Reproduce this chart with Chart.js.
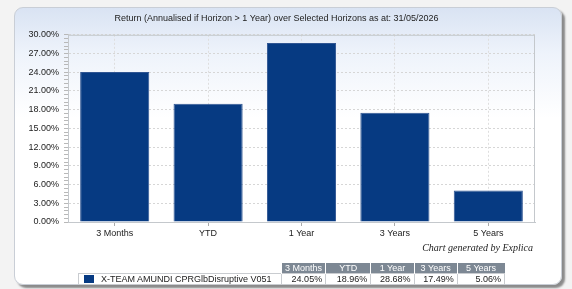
<!DOCTYPE html>
<html>
<head>
<meta charset="utf-8">
<script src="https://cdn.jsdelivr.net/npm/chart.js@4"></script>
<style>
    html, body { margin: 0; padding: 0; background: #f3f3f3; }
    body { width: 572px; height: 289px; position: relative; overflow: hidden; font-family: Arial, "Liberation Sans", sans-serif; }
    .panel {
        position: absolute; left: 14px; top: 7px; width: 546px; height: 276px;
        border: 1px solid #c9ced6; border-radius: 9px;
        background: linear-gradient(to bottom, #d9e3f3 0px, #eef3fb 45px, #ffffff 110px);
        box-shadow: 3px 3px 2px #8a8a8a;
    }
    #chart { position: absolute; left: 0; top: 0; }
    .credit {
        position: absolute; right: 39px; top: 242px;
        font: italic 10px "Times New Roman", "Liberation Serif", serif; color: #222;
    }
    table.data {
        position: absolute; left: 78px; top: 263px; width: 427px;
        table-layout: fixed; border-collapse: collapse; font-size: 9px; color: #222;
    }
    table.data td { padding: 0 3px; white-space: nowrap; overflow: hidden; }
    table.data tr.head td { height: 10px; line-height: 10px; }
    table.data tr.head td.h { background: #7d8894; color: #fff; border-left: 1px solid #fff; text-align: center; }
    table.data tr.vals td { height: 10px; line-height: 10px; border: 1px solid #c9ccd0; text-align: right; background: #fff; }
    table.data tr.vals td.name { text-align: left; padding-left: 5px; }
    .swatch { display: inline-block; width: 10px; height: 8px; background: #063a82; margin-right: 7px; vertical-align: -1px; }
</style>
</head>
<body>
<div class="panel"></div>
<canvas id="chart" width="572" height="289"></canvas>
<div class="credit">Chart generated by Explica</div>
<table class="data" id="dataTable"></table>
<script>
const horizons = ["3 Months", "YTD", "1 Year", "3 Years", "5 Years"];
const fundName = "X-TEAM AMUNDI CPRGlbDisruptive V051";
const returns = [24.05, 18.96, 28.68, 17.49, 5.06];
const chartTitle = "Return (Annualised if Horizon > 1 Year) over Selected Horizons as at: 31/05/2026";

const fontFamily = "Arial, 'Liberation Sans', sans-serif";

// table under the chart
const colWidths = [202, 44, 45, 43, 43, 47];
const table = document.getElementById("dataTable");
let cols = "<colgroup>";
colWidths.forEach(w => { cols += '<col style="width:' + w + 'px">'; });
cols += "</colgroup>";
let head = '<tr class="head"><td></td>';
horizons.forEach(h => { head += '<td class="h">' + h + '</td>'; });
head += '</tr>';
let vals = '<tr class="vals"><td class="name"><span class="swatch"></span>' + fundName + '</td>';
returns.forEach(v => { vals += '<td>' + v.toFixed(2) + '%</td>'; });
vals += '</tr>';
table.innerHTML = cols + head + vals;

const plotFrame = {
    id: "plotFrame",
    afterDraw(chart) {
        const a = chart.chartArea;
        const ctx = chart.ctx;
        ctx.save();
        ctx.strokeStyle = "#c4c8cc";
        ctx.lineWidth = 1;
        ctx.strokeRect(a.left + 0.5, a.top + 0.5, a.right - a.left - 1, a.bottom - a.top);
        ctx.restore();
    }
};

const isMajor = v => Math.round(v * 10) % 30 === 0;

new Chart(document.getElementById("chart"), {
    type: "bar",
    data: {
        labels: horizons,
        datasets: [{
            label: fundName,
            data: returns,
            backgroundColor: "#063a82",
            borderColor: "#2f5592",
            borderWidth: 1,
            barPercentage: 0.74,
            categoryPercentage: 1
        }]
    },
    options: {
        responsive: false,
        animation: false,
        layout: { padding: { left: 18, right: 37, top: 0, bottom: 47 } },
        scales: {
            x: {
                afterFit: s => { s.height = 20; },
                ticks: { color: "#222", font: { family: fontFamily, size: 9 }, padding: 2 },
                grid: { offset: false, color: "#dedede", tickColor: "#aaa", tickLength: 4 },
                border: { color: "#c4c8cc", dash: [2, 2] }
            },
            y: {
                min: 0,
                max: 30,
                afterFit: s => { s.width = 50; },
                ticks: {
                    stepSize: 0.6,
                    autoSkip: false,
                    color: "#222",
                    padding: 5,
                    font: { family: fontFamily, size: 9 },
                    callback: v => isMajor(v) ? (Math.round(v * 10) / 10).toFixed(2) + "%" : ""
                },
                grid: {
                    color: c => isMajor(c.tick.value) && c.tick.value > 0 ? "#d6d6d6" : "transparent",
                    tickColor: "#b8b8b8",
                    tickLength: 4
                },
                border: { color: "#c4c8cc", dash: [2, 2] }
            }
        },
        plugins: {
            legend: { display: false },
            tooltip: { enabled: false },
            title: {
                display: true,
                text: chartTitle,
                color: "#222",
                font: { family: fontFamily, size: 9, weight: "normal" },
                padding: { top: 13, bottom: 11 }
            }
        }
    },
    plugins: [plotFrame]
});
</script>
</body>
</html>
